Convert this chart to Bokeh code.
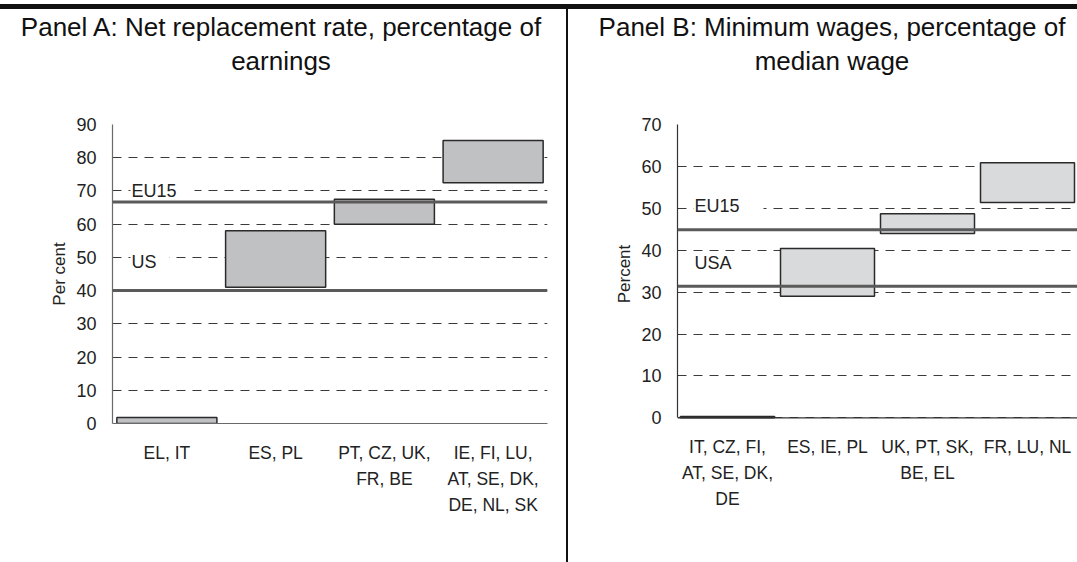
from bokeh.plotting import figure
from bokeh.models import Range1d, FixedTicker, Span, Label, Div
from bokeh.layouts import row, column
from bokeh.embed import file_html
from bokeh.resources import INLINE

# ---------------- data ----------------
cats_a = ["EL, IT", "ES, PL", "PT, CZ, UK,\nFR, BE", "IE, FI, LU,\nAT, SE, DK,\nDE, NL, SK"]
low_a = [0, 41, 60, 72.5]
high_a = [1.8, 58, 67.5, 85.2]
eu15_a = 66.7
us_a = 40
yticks_a = [0, 10, 20, 30, 40, 50, 60, 70, 80, 90]

cats_b = ["IT, CZ, FI,\nAT, SE, DK,\nDE", "ES, IE, PL", "UK, PT, SK,\nBE, EL", "FR, LU, NL"]
low_b = [0, 29, 44, 51.4]
high_b = [0.3, 40.4, 48.7, 60.9]
eu15_b = 44.9
usa_b = 31.4
yticks_b = [0, 10, 20, 30, 40, 50, 60, 70]

title_a = ["Panel A: Net replacement rate, percentage of", "earnings"]
title_b = ["Panel B: Minimum wages, percentage of", "median wage"]

SANS = "Liberation Sans"
FIG_H = 473
TOP, BOTTOM = 35, 139


def panel(cats, low, high, yrange, yticks, ylabel, fill, width, bl, br, bar_w, axis_col, xstand):
    p = figure(width=width, height=FIG_H, x_range=Range1d(0, 4), y_range=Range1d(*yrange),
               output_backend="svg", toolbar_location=None,
               min_border_left=bl, min_border_right=br, min_border_top=TOP, min_border_bottom=BOTTOM)
    p.outline_line_color = None
    p.background_fill_color = "white"
    p.border_fill_color = "white"
    xs = [i + 0.5 for i in range(len(cats))]
    p.vbar(x=xs, bottom=low, top=high, width=bar_w, fill_color=fill,
           line_color="#2a2a2a", line_width=1.5)
    yt = FixedTicker(ticks=yticks)
    p.yaxis.ticker = yt
    p.ygrid.ticker = yt
    p.xgrid.visible = False
    p.ygrid.grid_line_color = "#3a3a3a"
    p.ygrid.grid_line_dash = "9 7"
    p.ygrid.grid_line_width = 1
    p.xaxis.ticker = FixedTicker(ticks=xs)
    p.xaxis.major_label_overrides = {x: c for x, c in zip(xs, cats)}
    p.yaxis.bounds = (0, max(yticks))
    for ax in (p.xaxis, p.yaxis):
        ax.major_tick_out = 0
        ax.major_tick_in = 0
        ax.minor_tick_out = 0
        ax.minor_tick_in = 0
        ax.major_label_text_font = SANS
        ax.major_label_text_color = "#222222"
        ax.axis_line_color = axis_col
        ax.axis_line_width = 1.2
    p.yaxis.major_label_text_font_size = "18px"
    p.xaxis.major_label_text_font_size = "17.5px"
    p.yaxis.major_label_standoff = 16
    p.xaxis.major_label_standoff = xstand
    p.xaxis.major_label_text_line_height = 1.3
    p.yaxis.axis_label = ylabel
    p.yaxis.axis_label_text_font = SANS
    p.yaxis.axis_label_text_font_size = "17px"
    p.yaxis.axis_label_text_font_style = "normal"
    p.yaxis.axis_label_text_color = "#222222"
    p.yaxis.axis_label_standoff = 4
    return p


def ref_label(p, x, y, text, rpad):
    p.add_layout(Label(x=x, y=y, text=text, text_font=SANS, text_font_size="18px",
                       text_color="#222222", text_baseline="middle",
                       background_fill_color="white", padding=(1, rpad, 1, 8)))


def ref_line(p, y, color="#5a5a5a", w=3):
    p.add_layout(Span(location=y, dimension="width", line_color=color, line_width=w))


def title_div(lines, width, pl, pr):
    html = (f'<div style="width:{width}px;box-sizing:border-box;'
            'font-family:\'Liberation Sans\',Arial,sans-serif;font-size:26px;'
            'line-height:34px;color:#111;text-align:center;padding-top:1px;'
            f'padding-left:{pl}px;padding-right:{pr}px;white-space:nowrap">'
            + "<br>".join(lines) + "</div>")
    return Div(text=html, width=width, height=80, margin=0)


# Panel A
pa = panel(cats_a, low_a, high_a, (0, 90), yticks_a, "Per cent", "#c0c1c3", 566, 112, 19, 0.92,
           "#6a6a6a", 19)
ref_label(pa, 0.165, 68.8, "EU15", 18)
ref_label(pa, 0.165, 47.6, "US", 13)
ref_line(pa, eu15_a)
ref_line(pa, us_a)

# Panel B (y range start chosen so that 0 sits on the reference's baseline)
pb = panel(cats_b, low_b, high_b, (-1.36, 70), yticks_b, "Percent", "#d9dadc", 509, 109, 0, 0.94,
           "#333333", 13)
pb.xaxis.axis_line_color = None
ref_line(pb, 0, "#333333", 1.2)   # category baseline at zero
ref_label(pb, 0.16, 49.8, "EU15", 24)
ref_label(pb, 0.16, 36.2, "USA", 10)
ref_line(pb, eu15_b)
ref_line(pb, usa_b)

top_gap = Div(text="", width=1077, height=4, margin=0)
top_rule = Div(text="", width=1077, height=5, margin=0, styles={"background-color": "#111111"})
divider = Div(text="", width=2, height=553, margin=0, styles={"background-color": "#111111"})

left = column(title_div(title_a, 566, 0, 4), pa, spacing=0)
right = column(title_div(title_b, 509, 19, 0), pb, spacing=0)
layout = column(top_gap, top_rule, row(left, divider, right, spacing=0), spacing=0)

open("out.html", "w").write(file_html(layout, INLINE))
